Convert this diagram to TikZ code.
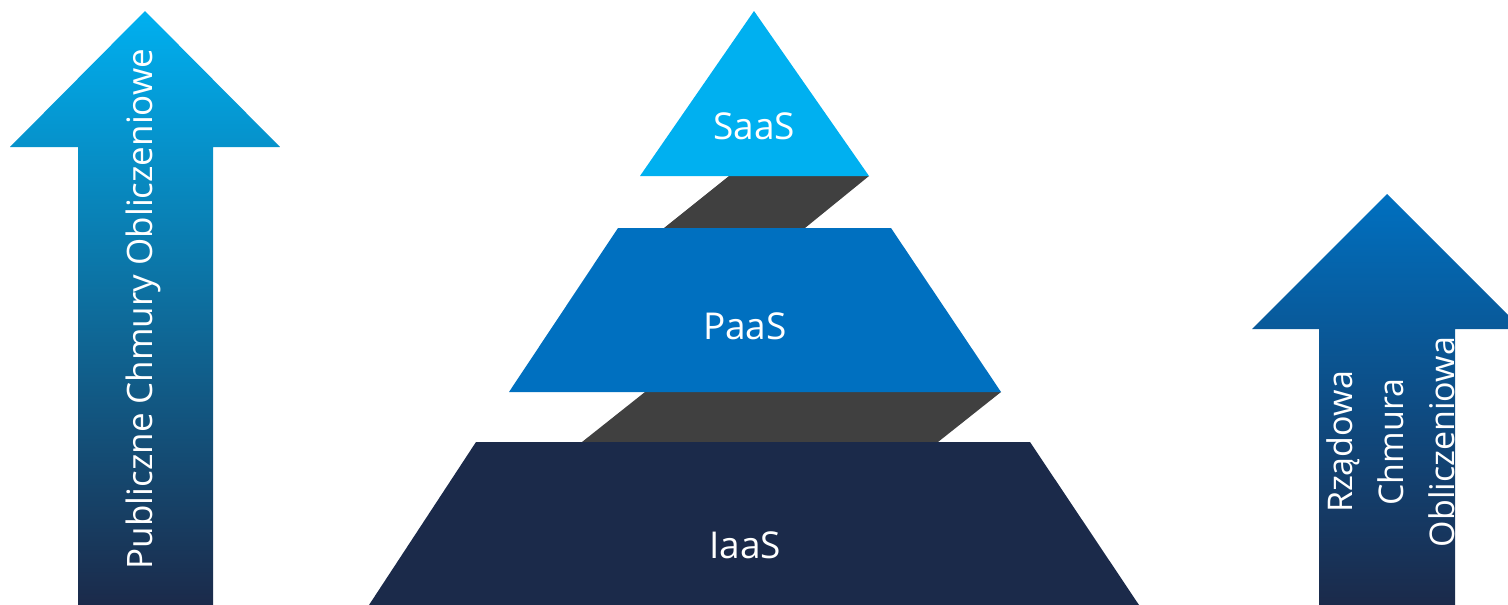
\documentclass[tikz,border=0pt]{standalone}
\usepackage{fontspec}
\setmainfont{Open Sans}
\definecolor{saas}{HTML}{00B0F0}
\definecolor{paas}{HTML}{0070C0}
\definecolor{iaas}{HTML}{1B2A4A}
\definecolor{conn}{HTML}{404040}
\tikzset{
  lbl/.style={text=white, inner sep=0pt, font=\fontsize{37}{44}\selectfont},
  arrlbl/.style={text=white, inner sep=0pt, rotate=90, font=\fontsize{35}{42}\selectfont},
}
\begin{document}
\begin{tikzpicture}[x=1pt,y=-1pt]
\useasboundingbox (0,0) rectangle (1508,605);
\begin{scope}
\clip (0,0) rectangle (1508,605);
% left arrow
\shade[top color=saas, middle color=paas, bottom color=iaas]
  (145,11) -- (280,147) -- (213,147) -- (213,605) -- (78,605) -- (78,147) -- (10,147) -- cycle;
% right arrow
\shade[top color=paas, bottom color=iaas]
  (1387,194) -- (1522,329) -- (1455,329) -- (1455,605) -- (1319,605) -- (1319,329) -- (1252,329) -- cycle;
% connectors
\fill[conn] (729,176) -- (869,176) -- (805,228) -- (664,228) -- cycle;
\fill[conn] (645,392) -- (1001,392) -- (938,442) -- (582,442) -- cycle;
% pyramid layers
\fill[saas] (754,11) -- (869,176) -- (640,176) -- cycle;
\fill[paas] (618,228) -- (891,228) -- (1001,392) -- (509,392) -- cycle;
\fill[iaas] (476,442) -- (1030,442) -- (1139,605) -- (369,605) -- cycle;
\end{scope}
\node[lbl] (saastxt) at (754,126) {SaaS};
\node[lbl] (paastxt) at (745,326) {PaaS};
\node[lbl] (iaastxt) at (745,545) {IaaS};
\node[arrlbl] (pub) at (143,309) {Publiczne Chmury Obliczeniowe};
\node[arrlbl, align=center, font=\fontsize{34}{51}\selectfont] (gov) at (1391,442) {Rządowa\\Chmura\\Obliczeniowa};
\end{tikzpicture}
\end{document}
